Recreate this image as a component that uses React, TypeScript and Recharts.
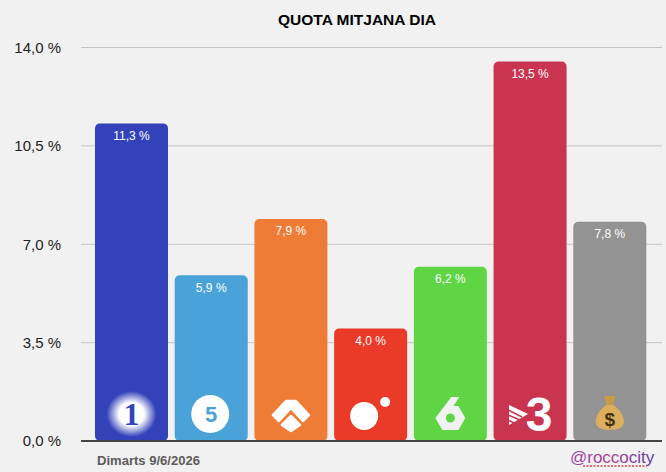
import React from 'react'
import { BarChart, Bar, CartesianGrid, XAxis, YAxis, LabelList, ReferenceLine } from 'recharts'

const channels = ['La 1', 'Telecinco', 'Antena 3', 'Cuatro', 'La Sexta', '3Cat', 'Altres']
const shares = [11.3, 5.9, 7.9, 4.0, 6.2, 13.5, 7.8]
const yTicks = [0, 3.5, 7, 10.5, 14]

const barColors = ['#3342b9', '#4aa3d8', '#ee7c37', '#ea3a28', '#5fd544', '#c9354f', '#939393']
const FONT = '"Liberation Sans", Arial, sans-serif'

const data = channels.map((name, i) => ({ name, share: shares[i] }))
const fmt = (v: number) => v.toFixed(1).replace('.', ',') + ' %'

// little channel logos, drawn around the bar centre
const Logo = ({ index, cx, by }: { index: number; cx: number; by: number }) => {
  const y = by - 27
  const c = barColors[index]
  switch (index) {
    case 0:
      return (
        <g>
          <ellipse cx={cx} cy={y} rx={25} ry={23} fill="url(#glow)" />
          <text x={cx} y={y + 11} textAnchor="middle" fontFamily='"Liberation Serif", serif' fontWeight="bold" fontSize={32} fill={c}>1</text>
        </g>
      )
    case 1:
      return (
        <g>
          <circle cx={cx - 1} cy={y} r={19} fill="#fff" />
          <text x={cx} y={y + 8} textAnchor="middle" fontFamily={FONT} fontWeight="bold" fontSize={22} fill={c}>5</text>
          <path d={`M${cx - 10} ${y + 1} L${cx - 2} ${y + 1}`} stroke="#fff" strokeWidth={1.5} />
        </g>
      )
    case 2:
      return (
        <g fill="#fff" stroke="#fff" strokeWidth={2.5} strokeLinejoin="round">
          <path d={`M${cx - 5} ${y - 13} L${cx + 5} ${y - 13} L${cx + 18} ${y + 1} L${cx + 12} ${y + 7} L${cx} ${y - 6} L${cx - 12} ${y + 7} L${cx - 18} ${y + 1} Z`} />
          <path d={`M${cx} ${y + 2} L${cx + 9} ${y + 11} L${cx} ${y + 17} L${cx - 9} ${y + 11} Z`} />
        </g>
      )
    case 3:
      return (
        <g fill="#fff">
          <circle cx={cx - 6.5} cy={y + 2} r={14} />
          <circle cx={cx + 14.5} cy={y - 12} r={5} />
        </g>
      )
    case 4:
      return (
        <g>
          <path d={`M${cx + 1} ${y - 17} L${cx + 9} ${y - 17} L${cx + 3} ${y - 8} L${cx + 8} ${y - 8} L${cx + 15} ${y + 4} L${cx + 8} ${y + 16} L${cx - 8} ${y + 16} L${cx - 15} ${y + 4} Z`} fill="#f1f1f1" />
          <circle cx={cx} cy={y + 4} r={4.5} fill={c} />
        </g>
      )
    case 5:
      return (
        <g fill="#fff">
          <path d={`M${cx - 21} ${y - 9} L${cx - 2} ${y} L${cx - 21} ${y + 11} Z`} />
          <path d={`M${cx - 22} ${y - 4} L${cx - 8} ${y + 3} M${cx - 22} ${y + 1} L${cx - 8} ${y + 7} M${cx - 22} ${y + 6} L${cx - 12} ${y + 11}`} stroke={c} strokeWidth={1.4} />
          <text x={cx + 9} y={y + 17} textAnchor="middle" fontFamily={FONT} fontWeight="bold" fontSize={48}>3</text>
        </g>
      )
    default:
      return (
        <g>
          <path d={`M${cx - 6} ${y - 18} L${cx + 6} ${y - 18} L${cx + 3} ${y - 9} L${cx - 3} ${y - 9} Z`} fill="#c99a4a" />
          <path d={`M${cx - 4} ${y - 9} L${cx + 4} ${y - 9} Q${cx + 15} ${y} ${cx + 14} ${y + 9} Q${cx + 13} ${y + 16} ${cx} ${y + 16} Q${cx - 13} ${y + 16} ${cx - 14} ${y + 9} Q${cx - 15} ${y} ${cx - 4} ${y - 9} Z`} fill="#dcae5e" />
          <text x={cx} y={y + 12} textAnchor="middle" fontFamily={FONT} fontWeight="bold" fontSize={19} fill="#3f3218">$</text>
        </g>
      )
  }
}

const ChannelBar = (props: any) => {
  const { x, y, width, height, index } = props
  return (
    <g>
      <rect x={x} y={y} width={width} height={height} rx={5} ry={5} fill={barColors[index]} />
      <Logo index={index} cx={x + width / 2} by={y + height} />
    </g>
  )
}

export default function App() {
  return (
    <div style={{ position: 'absolute', left: 0, top: 0, width: 666, height: 472, background: '#f1f1f1', fontFamily: FONT }}>
      <BarChart
        width={666}
        height={472}
        data={data}
        margin={{ top: 47.5, right: 4, bottom: 31, left: 1 }}
      >
        <defs>
          <radialGradient id="glow">
            <stop offset="50%" stopColor="#ffffff" />
            <stop offset="100%" stopColor="#ffffff" stopOpacity={0} />
          </radialGradient>
          <linearGradient id="handle" x1="0" y1="0" x2="1" y2="0">
            <stop offset="0%" stopColor="#9a3fb0" />
            <stop offset="50%" stopColor="#a8418f" />
            <stop offset="100%" stopColor="#5b3aa8" />
          </linearGradient>
        </defs>
        <text x={357} y={25} textAnchor="middle" fontFamily={FONT} fontWeight="bold" fontSize={15.5} fill="#000">QUOTA MITJANA DIA</text>
        <CartesianGrid stroke="#c4c4c4" strokeWidth={1} vertical={false} />
        <XAxis dataKey="name" height={0} tick={false} tickLine={false} axisLine={false} padding={{ left: 11, right: 12 }} />
        <YAxis
          width={80}
          domain={[0, 14]}
          ticks={yTicks}
          interval={0}
          axisLine={false}
          tickLine={false}
          tickMargin={14}
          tickFormatter={fmt}
          tick={{ fill: '#222', fontSize: 15, fontFamily: FONT }}
        />
        <Bar dataKey="share" barSize={73} isAnimationActive={false} shape={ChannelBar}>
          <LabelList dataKey="share" position="insideTop" offset={8} formatter={fmt} fill="#fff" fontSize={12} fontFamily={FONT} />
        </Bar>
        <ReferenceLine y={0} stroke="#444" strokeWidth={2} />
        <text x={97} y={465} fontFamily={FONT} fontWeight="bold" fontSize={13} fill="#5c5c5c" textLength={103} lengthAdjust="spacingAndGlyphs">Dimarts 9/6/2026</text>
        <text x={570} y={463} fontFamily={FONT} fontSize={17} fill="url(#handle)">@roccocity</text>
        <line x1={583} y1={466} x2={647} y2={466} stroke="#e0404a" strokeWidth={1.5} strokeDasharray="2 1.5" />
      </BarChart>
    </div>
  )
}
